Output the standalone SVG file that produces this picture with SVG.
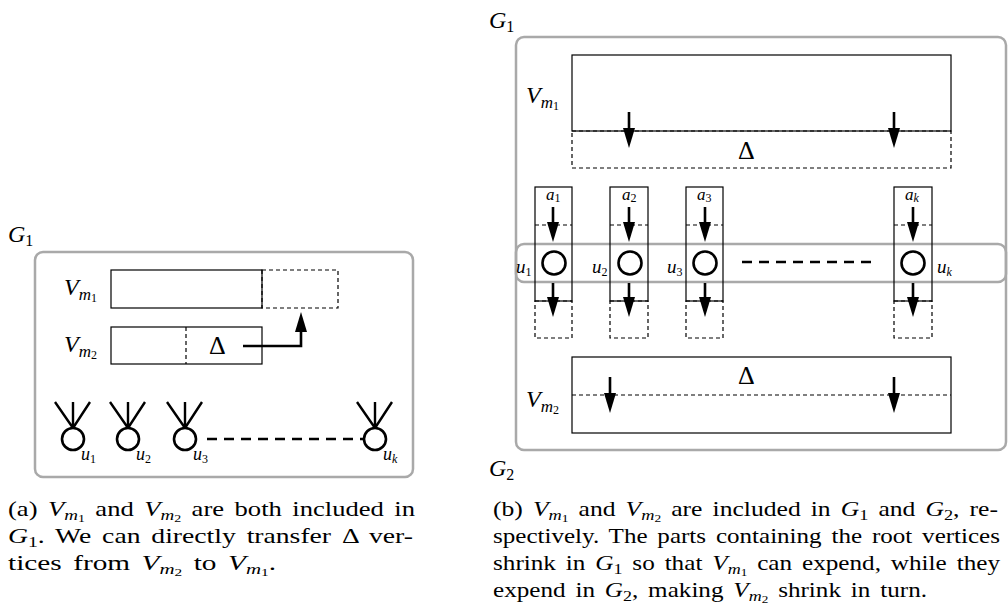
<svg xmlns="http://www.w3.org/2000/svg" width="1008" height="615" viewBox="0 0 1008 615" font-family="'Liberation Serif', 'DejaVu Serif', serif">
<style>
.frame{fill:none;stroke:#a9a9a9;stroke-width:2.5}
.box{fill:none;stroke:#000;stroke-width:1.2}
.dbox{fill:none;stroke:#000;stroke-width:1.2;stroke-dasharray:4 3}
.arr{fill:none;stroke:#000;stroke-width:2.6;marker-end:url(#ah)}
.thin{fill:none;stroke:#000;stroke-width:2.4}
.dots{fill:none;stroke:#000;stroke-width:2.6;stroke-dasharray:10 7}
.v{fill:#fff;stroke:#000;stroke-width:2.6}
</style>
<defs>
<marker id="ah" markerUnits="userSpaceOnUse" markerWidth="20" markerHeight="12" viewBox="0 0 20 12" refX="10" refY="6" orient="auto">
<path d="M0,0 L20,6 L0,12 z" fill="#000"/>
</marker>
</defs>

<!-- ===== Part (a) ===== -->
<g id="a-G1">
<rect class="frame" x="35" y="252" width="378" height="225" rx="8"/>
<text x="8" y="242" font-size="24"><tspan font-style="italic">G</tspan><tspan font-size="16" dy="4">1</tspan></text>
</g>
<g id="a-Vm1">
<rect class="dbox" x="262" y="270" width="76" height="38"/>
<rect class="box" x="111" y="270" width="151" height="38"/>
<text x="64" y="295" font-size="24"><tspan font-style="italic">V</tspan><tspan font-style="italic" font-size="17" dy="5">m</tspan><tspan font-size="12" dy="2">1</tspan></text>
</g>
<g id="a-Vm2">
<rect class="box" x="111" y="327" width="151" height="37"/>
<line class="dbox" x1="186" y1="327" x2="186" y2="364"/>
<text x="209" y="354" font-size="26">Δ</text>
<text x="64" y="352" font-size="24"><tspan font-style="italic">V</tspan><tspan font-style="italic" font-size="17" dy="5">m</tspan><tspan font-size="12" dy="2">2</tspan></text>
</g>
<g id="a-u1">
<path class="thin" d="M73,428 V402 M73,428 L55,402 M73,428 L90,402"/>
<circle class="v" cx="73" cy="439" r="11"/>
<text x="81" y="460" font-size="18"><tspan font-style="italic">u</tspan><tspan font-size="12" dy="3">1</tspan></text>
</g>
<g id="a-u2">
<path class="thin" d="M128,428 V402 M128,428 L110,402 M128,428 L145,402"/>
<circle class="v" cx="128" cy="439" r="11"/>
<text x="136" y="460" font-size="18"><tspan font-style="italic">u</tspan><tspan font-size="12" dy="3">2</tspan></text>
</g>
<g id="a-u3">
<path class="thin" d="M185,428 V402 M185,428 L167,402 M185,428 L202,402"/>
<circle class="v" cx="185" cy="439" r="11"/>
<text x="193" y="460" font-size="18"><tspan font-style="italic">u</tspan><tspan font-size="12" dy="3">3</tspan></text>
</g>
<g id="a-uk">
<path class="thin" d="M375,428 V402 M375,428 L357,402 M375,428 L392,402"/>
<circle class="v" cx="375" cy="439" r="11"/>
<text x="383" y="460" font-size="18"><tspan font-style="italic">u</tspan><tspan font-style="italic" font-size="12" dy="3">k</tspan></text>
</g>

<!-- ===== Part (b) ===== -->
<g id="b-G1">
<rect class="frame" x="516" y="37" width="490" height="413" rx="8"/>
<text x="489" y="28" font-size="24"><tspan font-style="italic">G</tspan><tspan font-size="16" dy="4">1</tspan></text>
</g>
<g id="b-G2">
<text x="489" y="476" font-size="24"><tspan font-style="italic">G</tspan><tspan font-size="16" dy="4">2</tspan></text>
</g>
<g id="b-Vm1">
<rect class="dbox" x="572" y="131" width="379" height="37"/>
<rect class="box" x="572" y="55" width="379" height="76"/>
<text x="738" y="159" font-size="26">Δ</text>
<text x="526" y="103" font-size="24"><tspan font-style="italic">V</tspan><tspan font-style="italic" font-size="17" dy="5">m</tspan><tspan font-size="12" dy="2">1</tspan></text>
</g>
<g id="b-Vm2">
<rect class="box" x="572" y="357" width="379" height="76"/>
<line class="dbox" x1="572" y1="395" x2="951" y2="395"/>
<text x="738" y="384" font-size="26">Δ</text>
<text x="526" y="407" font-size="24"><tspan font-style="italic">V</tspan><tspan font-style="italic" font-size="17" dy="5">m</tspan><tspan font-size="12" dy="2">2</tspan></text>
</g>
<g id="b-band">
<rect class="frame" x="516" y="244" width="490" height="38" rx="8"/>
</g>
<g id="b-col1">
<rect class="dbox" x="535" y="301" width="37" height="37"/>
<rect class="box" x="535" y="187" width="37" height="114"/>
<line class="dbox" x1="535" y1="225" x2="572" y2="225"/>
<circle class="v" cx="554" cy="263" r="11.5"/>
<text x="546" y="200" font-size="17"><tspan font-style="italic">a</tspan><tspan font-size="12" dy="2">1</tspan></text>
<text x="516" y="273" font-size="19"><tspan font-style="italic">u</tspan><tspan font-size="12" dy="3">1</tspan></text>
</g>
<g id="b-col2">
<rect class="dbox" x="610" y="301" width="38" height="37"/>
<rect class="box" x="610" y="187" width="38" height="114"/>
<line class="dbox" x1="610" y1="225" x2="648" y2="225"/>
<circle class="v" cx="630" cy="263" r="11.5"/>
<text x="622" y="200" font-size="17"><tspan font-style="italic">a</tspan><tspan font-size="12" dy="2">2</tspan></text>
<text x="592" y="273" font-size="19"><tspan font-style="italic">u</tspan><tspan font-size="12" dy="3">2</tspan></text>
</g>
<g id="b-col3">
<rect class="dbox" x="686" y="301" width="37" height="37"/>
<rect class="box" x="686" y="187" width="37" height="114"/>
<line class="dbox" x1="686" y1="225" x2="723" y2="225"/>
<circle class="v" cx="705" cy="263" r="11.5"/>
<text x="697" y="200" font-size="17"><tspan font-style="italic">a</tspan><tspan font-size="12" dy="2">3</tspan></text>
<text x="667" y="273" font-size="19"><tspan font-style="italic">u</tspan><tspan font-size="12" dy="3">3</tspan></text>
</g>
<g id="b-colk">
<rect class="dbox" x="894" y="301" width="38" height="37"/>
<rect class="box" x="894" y="187" width="38" height="114"/>
<line class="dbox" x1="894" y1="225" x2="932" y2="225"/>
<circle class="v" cx="913" cy="263" r="11.5"/>
<text x="905" y="200" font-size="17"><tspan font-style="italic">a</tspan><tspan font-style="italic" font-size="12" dy="2">k</tspan></text>
<text x="937" y="273" font-size="19"><tspan font-style="italic">u</tspan><tspan font-style="italic" font-size="12" dy="3">k</tspan></text>
</g>

<!-- ===== Connectors ===== -->
<g id="connectors">
<path class="arr" d="M243,346 H301 V322"/>
<line class="dots" x1="207" y1="439" x2="363" y2="439"/>
<line class="arr" x1="629" y1="112" x2="629" y2="138"/>
<line class="arr" x1="894" y1="112" x2="894" y2="138"/>
<line class="arr" x1="553" y1="207" x2="553" y2="232"/>
<line class="arr" x1="629" y1="207" x2="629" y2="232"/>
<line class="arr" x1="705" y1="207" x2="705" y2="232"/>
<line class="arr" x1="913" y1="207" x2="913" y2="232"/>
<line class="arr" x1="553" y1="283" x2="553" y2="307"/>
<line class="arr" x1="629" y1="283" x2="629" y2="307"/>
<line class="arr" x1="705" y1="283" x2="705" y2="307"/>
<line class="arr" x1="913" y1="283" x2="913" y2="307"/>
<line class="dots" x1="742" y1="262" x2="878" y2="262"/>
<line class="arr" x1="610" y1="377" x2="610" y2="403"/>
<line class="arr" x1="894" y1="377" x2="894" y2="403"/>
</g>

<!-- ===== Captions ===== -->
<g id="caption-a" font-size="21" word-spacing="3">
<text x="8" y="516" textLength="407" lengthAdjust="spacingAndGlyphs">(a) <tspan font-style="italic">V</tspan><tspan font-style="italic" font-size="15" dy="4">m</tspan><tspan font-size="11" dy="2">1</tspan><tspan dy="-6"> and </tspan><tspan font-style="italic">V</tspan><tspan font-style="italic" font-size="15" dy="4">m</tspan><tspan font-size="11" dy="2">2</tspan><tspan dy="-6"> are both included in</tspan></text>
<text x="8" y="543" textLength="405" lengthAdjust="spacingAndGlyphs"><tspan font-style="italic">G</tspan><tspan font-size="15" dy="4">1</tspan><tspan dy="-4">.  We can directly transfer Δ ver-</tspan></text>
<text x="8" y="570" textLength="268" lengthAdjust="spacingAndGlyphs">tices from <tspan font-style="italic">V</tspan><tspan font-style="italic" font-size="15" dy="4">m</tspan><tspan font-size="11" dy="2">2</tspan><tspan dy="-6"> to </tspan><tspan font-style="italic">V</tspan><tspan font-style="italic" font-size="15" dy="4">m</tspan><tspan font-size="11" dy="2">1</tspan><tspan dy="-6">.</tspan></text>
</g>
<g id="caption-b" font-size="21" word-spacing="3">
<text x="493" y="516" textLength="505" lengthAdjust="spacingAndGlyphs">(b) <tspan font-style="italic">V</tspan><tspan font-style="italic" font-size="15" dy="4">m</tspan><tspan font-size="11" dy="2">1</tspan><tspan dy="-6"> and </tspan><tspan font-style="italic">V</tspan><tspan font-style="italic" font-size="15" dy="4">m</tspan><tspan font-size="11" dy="2">2</tspan><tspan dy="-6"> are included in </tspan><tspan font-style="italic">G</tspan><tspan font-size="15" dy="4">1</tspan><tspan dy="-4"> and </tspan><tspan font-style="italic">G</tspan><tspan font-size="15" dy="4">2</tspan><tspan dy="-4">, re-</tspan></text>
<text x="493" y="543" textLength="507" lengthAdjust="spacingAndGlyphs">spectively. The parts containing the root vertices</text>
<text x="493" y="570" textLength="507" lengthAdjust="spacingAndGlyphs">shrink in <tspan font-style="italic">G</tspan><tspan font-size="15" dy="4">1</tspan><tspan dy="-4"> so that </tspan><tspan font-style="italic">V</tspan><tspan font-style="italic" font-size="15" dy="4">m</tspan><tspan font-size="11" dy="2">1</tspan><tspan dy="-6"> can expend, while they</tspan></text>
<text x="493" y="597" textLength="434" lengthAdjust="spacingAndGlyphs">expend in <tspan font-style="italic">G</tspan><tspan font-size="15" dy="4">2</tspan><tspan dy="-4">, making </tspan><tspan font-style="italic">V</tspan><tspan font-style="italic" font-size="15" dy="4">m</tspan><tspan font-size="11" dy="2">2</tspan><tspan dy="-6"> shrink in turn.</tspan></text>
</g>
</svg>
